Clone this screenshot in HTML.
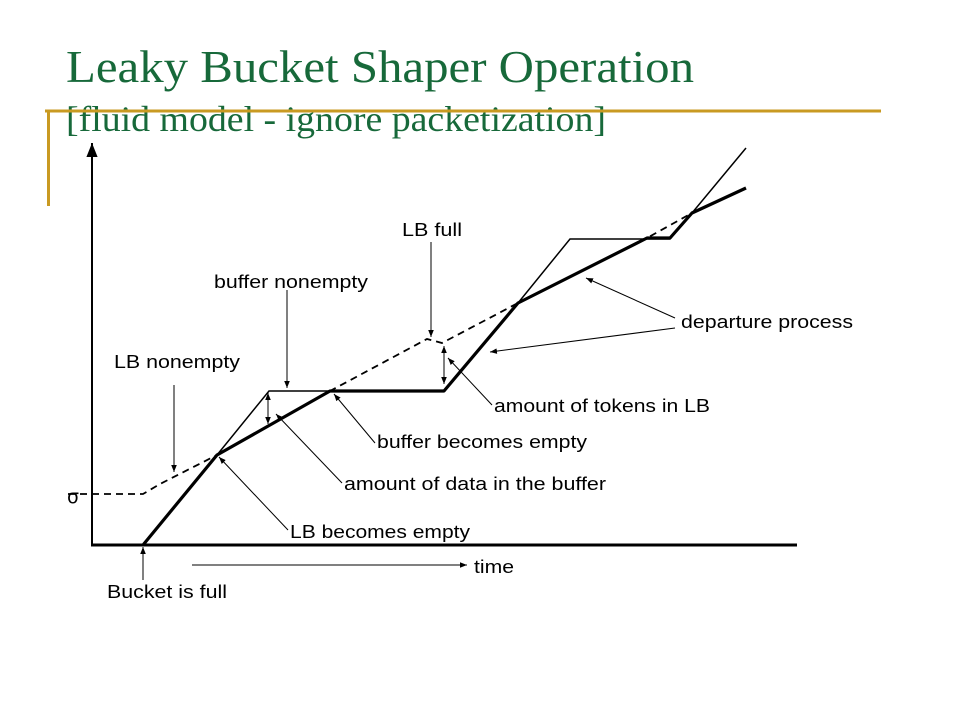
<!DOCTYPE html>
<html><head><meta charset="utf-8"><style>
html,body{margin:0;padding:0;background:#fff;}
svg{display:block;}
.lbl{font-family:"Liberation Sans",Arial,sans-serif;font-size:18px;fill:#000;}
.ttl{font-family:"Liberation Serif",serif;fill:#17693a;}
</style></head><body>
<svg id="chart" width="960" height="720" viewBox="0 0 960 720">
<defs>
<marker id="ah" viewBox="0 0 10 10" refX="10" refY="5" markerWidth="7" markerHeight="7" orient="auto-start-reverse"><path d="M0,1 L10,5 L0,9 z" fill="#000"/></marker>
</defs>
<text class="ttl" x="66" y="82" font-size="45" textLength="628" lengthAdjust="spacingAndGlyphs">Leaky Bucket Shaper Operation</text>
<text class="ttl" x="66" y="131" font-size="36" textLength="540" lengthAdjust="spacingAndGlyphs">[fluid model - ignore packetization]</text>
<line x1="45" y1="111" x2="881" y2="111" stroke="#c99a22" stroke-width="3"/>
<line x1="48.5" y1="110" x2="48.5" y2="206" stroke="#c99a22" stroke-width="3"/>
<line x1="92" y1="546" x2="92" y2="143" stroke="#000" stroke-width="2" marker-end="url(#ah)"/>
<line x1="91" y1="545" x2="797" y2="545" stroke="#000" stroke-width="3"/>
<g id="series"></g>
</svg>
<script>
const arrivalT=[51,125,177,352,426,478,578,600,654];
const arrivalV=[0,90,154,154,242,306,306,332,397];
const departT=[51,125,238,352,426,555,578,600,654];
const departV=[0,90,154,154,242,307,307,332,357];
const tokenT=[0,51,68,125,238,335,350,426,555,600];
const tokenV=[51,51,61,90,154,206,202,242,307,332];
const X=t=>92+t, Y=v=>545-v;
const NS="http://www.w3.org/2000/svg";
const g=document.getElementById('series');
function poly(T,V,attrs,name){
  const p=document.createElementNS(NS,'polyline');
  p.setAttribute('points',T.map((t,i)=>X(t)+','+Y(V[i])).join(' '));
  for(const k in attrs)p.setAttribute(k,attrs[k]);
  
  
  g.appendChild(p);
}
poly(tokenT,tokenV,{fill:'none',stroke:'#000','stroke-width':1.8,'stroke-dasharray':'7,5'},'token-curve');
poly(arrivalT,arrivalV,{fill:'none',stroke:'#000','stroke-width':1.5},'arrival-curve');
poly(departT,departV,{fill:'none',stroke:'#000','stroke-width':3.2,'stroke-linejoin':'round'},'departure-curve');
</script>
<svg width="960" height="720" style="position:absolute;left:0;top:0">
<defs><marker id="a2" viewBox="0 0 10 10" refX="10" refY="5" markerWidth="7" markerHeight="7" orient="auto-start-reverse"><path d="M0,1 L10,5 L0,9 z" fill="#000"/></marker></defs>
<g stroke="#000" stroke-width="1" fill="none">
<line x1="68" y1="494" x2="92" y2="494" stroke-width="1.8" stroke-dasharray="7,5"/>
<line x1="174" y1="385" x2="174" y2="472" marker-end="url(#a2)"/>
<line x1="287" y1="290" x2="287" y2="388" marker-end="url(#a2)"/>
<line x1="431" y1="242" x2="431" y2="337" marker-end="url(#a2)"/>
<line x1="268" y1="393" x2="268" y2="424" marker-start="url(#a2)" marker-end="url(#a2)"/>
<line x1="444" y1="346" x2="444" y2="384" marker-start="url(#a2)" marker-end="url(#a2)"/>
<line x1="375" y1="443" x2="334" y2="394" marker-end="url(#a2)"/>
<line x1="342" y1="483" x2="276" y2="414" marker-end="url(#a2)"/>
<line x1="288" y1="530" x2="219" y2="457" marker-end="url(#a2)"/>
<line x1="492" y1="405" x2="448" y2="358" marker-end="url(#a2)"/>
<line x1="675" y1="318" x2="586" y2="278" marker-end="url(#a2)"/>
<line x1="675" y1="328" x2="490" y2="352" marker-end="url(#a2)"/>
<line x1="143" y1="580" x2="143" y2="547" marker-end="url(#a2)"/>
<line x1="192" y1="565" x2="467" y2="565" marker-end="url(#a2)"/>
</g>
<text x="67" y="503" style="font-family:'DejaVu Sans',sans-serif;font-size:19px;fill:#000">σ</text>
<text class="lbl" x="114" y="368" textLength="126" lengthAdjust="spacingAndGlyphs">LB nonempty</text>
<text class="lbl" x="214" y="288" textLength="154" lengthAdjust="spacingAndGlyphs">buffer nonempty</text>
<text class="lbl" x="402" y="236" textLength="60" lengthAdjust="spacingAndGlyphs">LB full</text>
<text class="lbl" x="681" y="328" textLength="172" lengthAdjust="spacingAndGlyphs">departure process</text>
<text class="lbl" x="494" y="412" textLength="216" lengthAdjust="spacingAndGlyphs">amount of tokens in LB</text>
<text class="lbl" x="377" y="448" textLength="210" lengthAdjust="spacingAndGlyphs">buffer becomes empty</text>
<text class="lbl" x="344" y="490" textLength="262" lengthAdjust="spacingAndGlyphs">amount of data in the buffer</text>
<text class="lbl" x="290" y="538" textLength="180" lengthAdjust="spacingAndGlyphs">LB becomes empty</text>
<text class="lbl" x="474" y="573" textLength="40" lengthAdjust="spacingAndGlyphs">time</text>
<text class="lbl" x="107" y="598" textLength="120" lengthAdjust="spacingAndGlyphs">Bucket is full</text>
</svg>
</body></html>
